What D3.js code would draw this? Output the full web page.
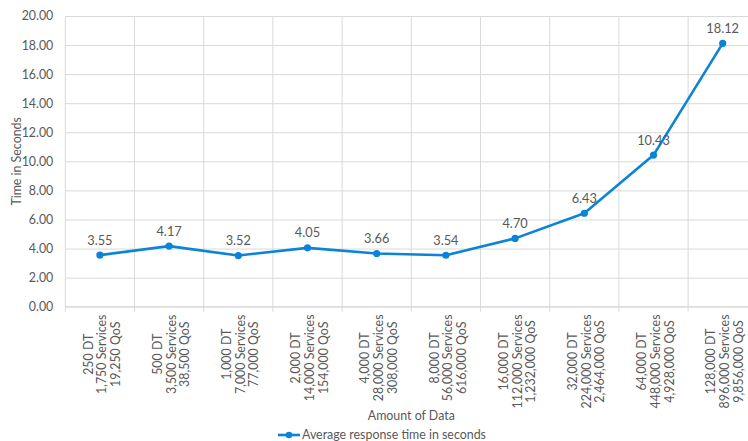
<!DOCTYPE html>
<html>
<head>
<meta charset="utf-8">
<script src="https://cdn.jsdelivr.net/npm/d3@7"></script>
<style>
  html, body { margin: 0; padding: 0; background: #ffffff; overflow: hidden; }
  svg { display: block; font-family: Lato, "Liberation Sans", Arial, sans-serif; }
</style>
</head>
<body>
<svg id="chart" width="748" height="441"></svg>
<script>
// Data: amount of data per run and the measured average response time
const dtLabels = ["250 DT", "500 DT", "1,000 DT", "2,000 DT", "4,000 DT",
                  "8,000 DT", "16,000 DT", "32,000 DT", "64,000 DT", "128,000 DT"];
const serviceLabels = ["1,750 Services", "3,500 Services", "7,000 Services", "14,000 Services", "28,000 Services",
                       "56,000 Services", "112,000 Services", "224,000 Services", "448,000 Services", "896,000 Services"];
const qosLabels = ["19,250 QoS", "38,500 QoS", "77,000 QoS", "154,000 QoS", "308,000 QoS",
                   "616,000 QoS", "1,232,000 QoS", "2,464,000 QoS", "4,928,000 QoS", "9,856,000 QoS"];
const responseTimes = [3.55, 4.17, 3.52, 4.05, 3.66, 3.54, 4.70, 6.43, 10.43, 18.12];
const yTicks = [0, 2, 4, 6, 8, 10, 12, 14, 16, 18, 20];
const seriesName = "Average response time in seconds";
const xTitle = "Amount of Data";
const yTitle = "Time in Seconds";

const categories = dtLabels.map((d, i) => i);
const textColor = "#595959";
const gridColor = "#d9d9d9";
const lineColor = "#0b84d8";

const svg = d3.select("#chart");
const plot = { left: 65.3, right: 757.3, top: 16, bottom: 306.7 };

const x = d3.scaleBand().domain(categories).range([plot.left, plot.right]).paddingInner(0).paddingOuter(0);
const y = d3.scaleLinear().domain([0, 20]).range([plot.bottom, plot.top]);
const cx = i => x(i) + x.bandwidth() / 2;

// Horizontal gridlines + y tick labels
const yAxis = d3.axisLeft(y).tickValues(yTicks).tickFormat(d3.format(".2f"))
  .tickSize(-(plot.right - plot.left)).tickPadding(12);
const gy = svg.append("g").attr("transform", `translate(${plot.left},0)`).call(yAxis);
gy.select(".domain").remove();
gy.selectAll(".tick line").attr("stroke", gridColor).attr("stroke-width", 1);
gy.selectAll(".tick text").attr("fill", textColor).style("font-size", "12.4px")
  .style("font-family", "Lato, 'Liberation Sans', Arial, sans-serif");

// Vertical gridlines between categories, with small outward tick marks
const bounds = categories.map(i => x(i)).concat([plot.right]);
svg.append("g").selectAll("line").data(bounds).join("line")
  .attr("x1", d => d).attr("x2", d => d)
  .attr("y1", plot.top).attr("y2", plot.bottom + 5)
  .attr("stroke", gridColor).attr("stroke-width", 1);

// Category axis line
svg.append("line").attr("x1", plot.left).attr("x2", plot.right)
  .attr("y1", plot.bottom).attr("y2", plot.bottom)
  .attr("stroke", gridColor).attr("stroke-width", 1);

// Rotated three-line category labels
const labelTop = 314.5;
const lineGap = 13.8;
categories.forEach(i => {
  const g = svg.append("g");
  const t = g.append("text").attr("fill", textColor).style("font-size", "12.4px")
    .attr("text-anchor", "middle");
  const lines = [dtLabels[i], serviceLabels[i], qosLabels[i]];
  lines.forEach((s, k) => {
    t.append("tspan").attr("x", 0).attr("y", (k - 1) * lineGap + 4.4).text(s);
  });
  let maxLen = 0;
  t.selectAll("tspan").each(function () { maxLen = Math.max(maxLen, this.getComputedTextLength()); });
  g.attr("transform", `translate(${cx(i) + 2},${labelTop + maxLen / 2}) rotate(-90)`);
});

// Series line
const line = d3.line().x((d, i) => cx(i)).y(d => y(d));
svg.append("path").datum(responseTimes)
  .attr("d", line).attr("fill", "none")
  .attr("stroke", lineColor).attr("stroke-width", 2.6).attr("stroke-linejoin", "round");

// Markers
svg.append("g").selectAll("circle").data(responseTimes).join("circle")
  .attr("cx", (d, i) => cx(i)).attr("cy", d => y(d)).attr("r", 3.6)
  .attr("fill", lineColor);

// Value labels
svg.append("g").selectAll("text").data(responseTimes).join("text")
  .attr("x", (d, i) => cx(i)).attr("y", d => y(d) - 10.5)
  .attr("text-anchor", "middle").attr("fill", textColor).style("font-size", "12.8px")
  .text(d3.format(".2f"));

// Axis titles
svg.append("text").attr("transform", `translate(20.5,${(plot.top + plot.bottom) / 2}) rotate(-90)`)
  .attr("text-anchor", "middle").attr("fill", textColor).style("font-size", "12.4px")
  .text(yTitle);
svg.append("text").attr("x", (plot.left + plot.right) / 2).attr("y", 419.5)
  .attr("text-anchor", "middle").attr("fill", textColor).style("font-size", "12.4px")
  .text(xTitle);

// Legend
const lg = svg.append("g");
lg.append("line").attr("x1", 278).attr("x2", 300).attr("y1", 435).attr("y2", 435)
  .attr("stroke", lineColor).attr("stroke-width", 2.6);
lg.append("circle").attr("cx", 289).attr("cy", 435).attr("r", 3.3).attr("fill", lineColor);
lg.append("text").attr("x", 302).attr("y", 438.6).attr("fill", textColor).style("font-size", "12.4px")
  .text(seriesName);
</script>
</body>
</html>
